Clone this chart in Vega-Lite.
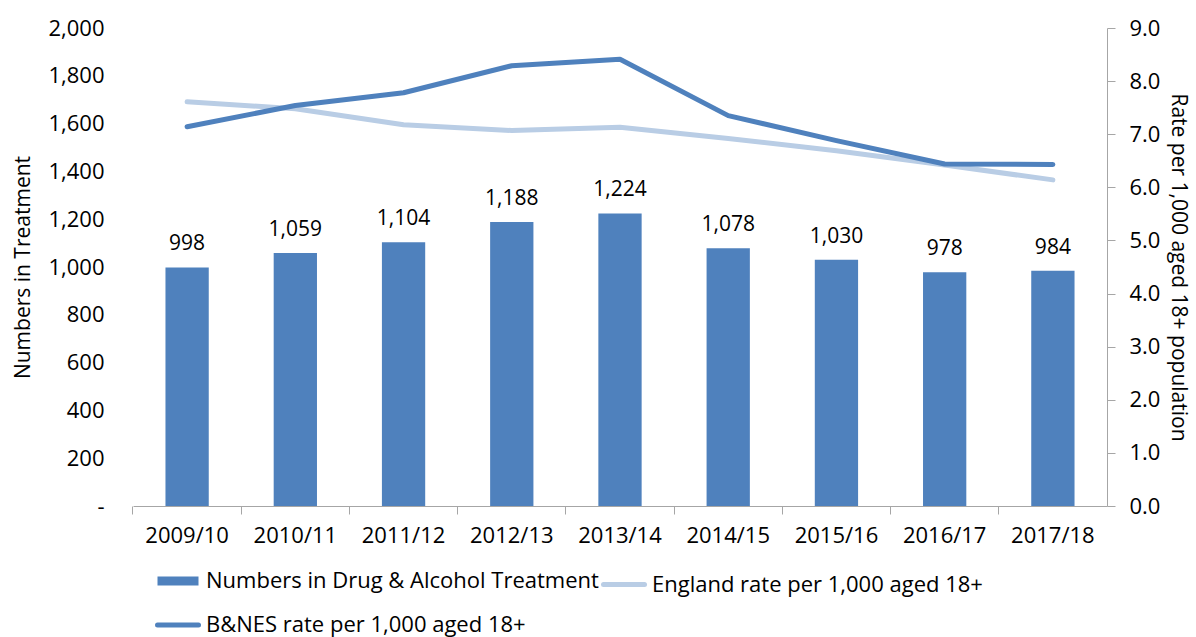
{
  "$schema": "https://vega.github.io/schema/vega-lite/v6.json",
  "width": 974,
  "height": 478,
  "autosize": {"type": "none"},
  "padding": {"left": 133, "top": 28, "right": 89, "bottom": 131},
  "background": "white",
  "config": {
    "font": "Open Sans",
    "view": {"stroke": null},
    "axis": {"labelFont": "Open Sans", "titleFont": "Open Sans", "labelFontSize": 22, "titleFontSize": 21, "titleFontWeight": "normal", "labelColor": "#000", "titleColor": "#000", "grid": false, "labelOverlap": false},
    "legend": {"labelFont": "Open Sans", "labelFontSize": 22, "labelColor": "#000"}
  },
  "datasets": {
    "bars": [
      {"year": "2009/10", "count": 998, "series": "Numbers in Drug & Alcohol Treatment"},
      {"year": "2010/11", "count": 1059, "series": "Numbers in Drug & Alcohol Treatment"},
      {"year": "2011/12", "count": 1104, "series": "Numbers in Drug & Alcohol Treatment"},
      {"year": "2012/13", "count": 1188, "series": "Numbers in Drug & Alcohol Treatment"},
      {"year": "2013/14", "count": 1224, "series": "Numbers in Drug & Alcohol Treatment"},
      {"year": "2014/15", "count": 1078, "series": "Numbers in Drug & Alcohol Treatment"},
      {"year": "2015/16", "count": 1030, "series": "Numbers in Drug & Alcohol Treatment"},
      {"year": "2016/17", "count": 978, "series": "Numbers in Drug & Alcohol Treatment"},
      {"year": "2017/18", "count": 984, "series": "Numbers in Drug & Alcohol Treatment"}
    ],
    "rates": [
      {"year": "2009/10", "rate": 7.61, "series": "England rate per 1,000 aged 18+"},
      {"year": "2010/11", "rate": 7.48, "series": "England rate per 1,000 aged 18+"},
      {"year": "2011/12", "rate": 7.18, "series": "England rate per 1,000 aged 18+"},
      {"year": "2012/13", "rate": 7.07, "series": "England rate per 1,000 aged 18+"},
      {"year": "2013/14", "rate": 7.13, "series": "England rate per 1,000 aged 18+"},
      {"year": "2014/15", "rate": 6.92, "series": "England rate per 1,000 aged 18+"},
      {"year": "2015/16", "rate": 6.69, "series": "England rate per 1,000 aged 18+"},
      {"year": "2016/17", "rate": 6.42, "series": "England rate per 1,000 aged 18+"},
      {"year": "2017/18", "rate": 6.14, "series": "England rate per 1,000 aged 18+"},
      {"year": "2009/10", "rate": 7.14, "series": "B&NES rate per 1,000 aged 18+"},
      {"year": "2010/11", "rate": 7.54, "series": "B&NES rate per 1,000 aged 18+"},
      {"year": "2011/12", "rate": 7.78, "series": "B&NES rate per 1,000 aged 18+"},
      {"year": "2012/13", "rate": 8.29, "series": "B&NES rate per 1,000 aged 18+"},
      {"year": "2013/14", "rate": 8.41, "series": "B&NES rate per 1,000 aged 18+"},
      {"year": "2014/15", "rate": 7.35, "series": "B&NES rate per 1,000 aged 18+"},
      {"year": "2015/16", "rate": 6.88, "series": "B&NES rate per 1,000 aged 18+"},
      {"year": "2016/17", "rate": 6.44, "series": "B&NES rate per 1,000 aged 18+"},
      {"year": "2017/18", "rate": 6.43, "series": "B&NES rate per 1,000 aged 18+"}
    ]
  },
  "layer": [
    {
      "data": {"name": "bars"},
      "layer": [
        {
          "mark": {"type": "bar"},
          "encoding": {
            "x": {"field": "year", "type": "nominal", "sort": null, "scale": {"paddingInner": 0.6, "paddingOuter": 0.3},
              "axis": {"title": null, "orient": "bottom", "labelAngle": 0, "labelPadding": 19, "ticks": false, "domain": true, "domainColor": "#A6A6A6"}},
            "y": {"field": "count", "type": "quantitative", "scale": {"domain": [0, 2000]},
              "axis": {"title": "Numbers in Treatment", "orient": "left", "values": [0,200,400,600,800,1000,1200,1400,1600,1800,2000], "labelExpr": "datum.value == 0 ? '-' : format(datum.value, ',')", "domain": false, "ticks": false, "labelPadding": 29, "titlePadding": 14}},
            "color": {"field": "series", "type": "nominal",
              "scale": {"domain": ["Numbers in Drug & Alcohol Treatment", "England rate per 1,000 aged 18+", "B&NES rate per 1,000 aged 18+"], "range": ["#4F81BD", "#B9CDE5", "#4F81BD"]},
              "legend": {"title": null, "orient": "none", "legendX": 34, "legendY": 542, "direction": "horizontal", "columns": 2, "symbolType": "stroke", "symbolSize": 1681, "symbolStrokeWidth": 5, "rowPadding": 15, "columnPadding": -6, "labelOffset": 17, "labelLimit": 0,
                "encode": {"symbols": {"update": {"strokeWidth": {"signal": "datum.value == 'Numbers in Drug & Alcohol Treatment' ? 9 : 5"}, "strokeCap": {"signal": "datum.value == 'Numbers in Drug & Alcohol Treatment' ? 'butt' : 'round'"}}}}}}
          }
        },
        {
          "mark": {"type": "text", "dy": -17, "baseline": "alphabetic", "fontSize": 21, "color": "#000", "font": "Open Sans"},
          "encoding": {
            "x": {"field": "year", "type": "nominal", "sort": null},
            "y": {"field": "count", "type": "quantitative"},
            "text": {"field": "count", "type": "quantitative", "format": ","}
          }
        }
      ]
    },
    {
      "data": {"name": "rates"},
      "transform": [{"filter": "datum.series == 'England rate per 1,000 aged 18+'"}],
      "mark": {"type": "line", "strokeWidth": 5, "strokeCap": "round", "strokeJoin": "round"},
      "encoding": {
        "x": {"field": "year", "type": "nominal", "sort": null,
          "axis": {"title": null, "orient": "bottom", "labels": false, "ticks": true, "tickSize": 8, "tickColor": "#A6A6A6", "bandPosition": -0.75, "domain": false}},
        "y": {"field": "rate", "type": "quantitative", "scale": {"domain": [0, 9]},
          "axis": {"title": "Rate per 1,000 aged 18+ population", "orient": "right", "values": [0,1,2,3,4,5,6,7,8,9], "format": ".1f", "domainColor": "#A6A6A6", "tickColor": "#A6A6A6", "tickSize": 8, "labelPadding": 14, "titlePadding": 8}},
        "color": {"field": "series", "type": "nominal"}
      }
    },
    {
      "data": {"name": "rates"},
      "transform": [{"filter": "datum.series == 'B&NES rate per 1,000 aged 18+'"}],
      "mark": {"type": "line", "strokeWidth": 5, "strokeCap": "round", "strokeJoin": "round"},
      "encoding": {
        "x": {"field": "year", "type": "nominal", "sort": null, "axis": null},
        "y": {"field": "rate", "type": "quantitative", "scale": {"domain": [0, 9]}, "axis": null},
        "color": {"field": "series", "type": "nominal"}
      }
    }
  ],
  "resolve": {"scale": {"y": "independent"}, "axis": {"x": "independent"}}
}
